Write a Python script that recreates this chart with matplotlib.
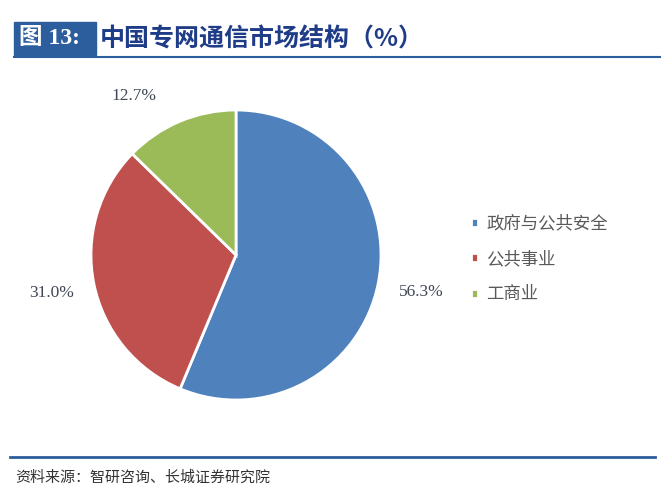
import matplotlib
matplotlib.use("Agg")
import matplotlib.pyplot as plt
from matplotlib.patches import Rectangle
from matplotlib.lines import Line2D

plt.rcParams['font.family'] = ['Noto Sans CJK SC', 'DejaVu Sans']

categories = ['政府与公共安全', '公共事业', '工商业']
shares = [56.3, 31.0, 12.7]
colors = ['#4F81BD', '#C0504D', '#9BBB59']
title_tag = '图 13:'
title = '中国专网通信市场结构（%）'
source = '资料来源：智研咨询、长城证券研究院'

W, H = 665, 500
fig = plt.figure(figsize=(W / 100, H / 100), dpi=100)

# header: blue tag box + underline
fig.patches.append(Rectangle((14 / W, 1 - 55 / H), 82 / W, 33 / H,
                             transform=fig.transFigure, color='#2C5E9E', zorder=1))
fig.lines.append(Line2D([14 / W, 660 / W], [1 - 57 / H, 1 - 57 / H],
                        transform=fig.transFigure, color='#2C5E9E', lw=1.5))
fig.text(19 / W, 1 - 39 / H, title_tag, color='white', fontsize=17, fontweight='bold',
         family=['Liberation Serif', 'Noto Sans CJK SC'], va='center', zorder=2)
fig.text(100 / W, 1 - 39 / H, title, color='#1F3C88', fontsize=18, fontweight='bold',
         va='center')

# footer
fig.lines.append(Line2D([10 / W, 655 / W], [1 - 457 / H, 1 - 457 / H],
                        transform=fig.transFigure, color='#2C5E9E', lw=2))
fig.text(15 / W, 1 - 478 / H, source, color='#333333', fontsize=10.8, style='italic',
         va='center')

# pie
cx, cy, r = 236, 255, 145
ax = fig.add_axes([(cx - r) / W, 1 - (cy + r) / H, 2 * r / W, 2 * r / H])
wedges, texts, autotexts = ax.pie(
    shares, colors=colors, startangle=90, counterclock=False,
    autopct='%.1f%%', pctdistance=1.3, radius=1,
    wedgeprops=dict(edgecolor='white', linewidth=2),
    textprops=dict(fontsize=12.5, color='#404855',
                   family=['Liberation Serif', 'Noto Sans CJK SC']))
# small nudge of the last label, like the original layout
x, y = autotexts[2].get_position()
autotexts[2].set_position((x - 0.2, y - 0.1))
ax.set_xlim(-1, 1)
ax.set_ylim(-1, 1)
ax.set_aspect('equal')
ax.axis('off')

fig.legend(wedges, categories, loc='upper left',
           bbox_to_anchor=(462 / W, 1 - 206 / H), frameon=False,
           fontsize=12.5, labelcolor='#595959', handlelength=0.4, handleheight=0.4,
           handletextpad=0.5, labelspacing=1.0, borderpad=0)

fig.savefig('out.png', dpi=100)
